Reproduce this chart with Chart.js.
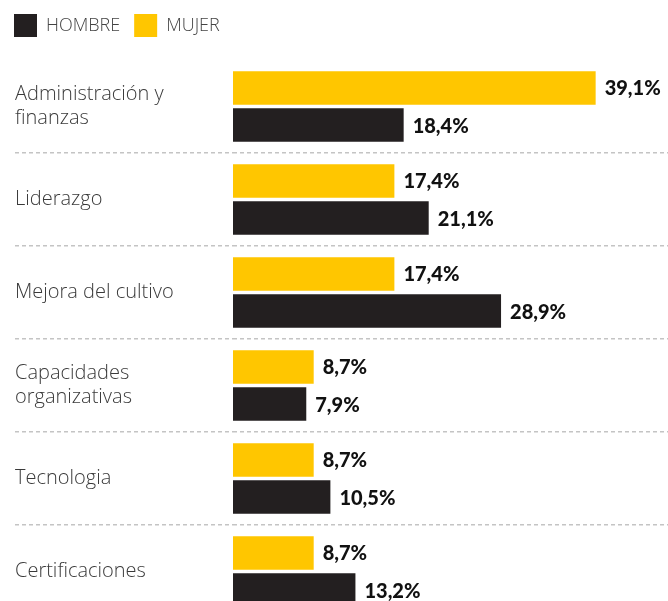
<!DOCTYPE html>
<html>
<head>
<meta charset="utf-8">
<script src="https://cdn.jsdelivr.net/npm/chart.js@4/dist/chart.umd.min.js"></script>
<style>
  html, body { margin: 0; padding: 0; background: #fff; overflow: hidden; }
</style>
</head>
<body>
<canvas id="chart" width="668" height="620"></canvas>
<script>
const categories = [['Administración y', 'finanzas'], 'Liderazgo', 'Mejora del cultivo', ['Capacidades', 'organizativas'], 'Tecnologia', 'Certificaciones'];
const mujerValues = [39.1, 17.4, 17.4, 8.7, 8.7, 8.7];
const hombreValues = [18.4, 21.1, 28.9, 7.9, 10.5, 13.2];

const YELLOW = '#ffc600';
const BLACK = '#231f20';
const LABEL_X = 15;

// make the legend take a fixed height so the plot starts where it should
const legendHeight = {
    id: 'legendHeight',
    beforeInit(chart) {
        const fit = chart.legend.fit;
        chart.legend.fit = function () {
            fit.call(this);
            this.height = 60;
        };
    }
};

// category names on the left, left aligned
const categoryLabels = {
    id: 'categoryLabels',
    afterDraw(chart) {
        const ctx = chart.ctx;
        const y = chart.scales.y;
        ctx.save();
        ctx.font = '300 20px "Open Sans"';
        ctx.fillStyle = '#3a3a3a';
        ctx.textBaseline = 'middle';
        ctx.textAlign = 'left';
        chart.data.labels.forEach((label, i) => {
            const lines = Array.isArray(label) ? label : [label];
            const lh = 24;
            const top = y.getPixelForTick(i) - (lines.length - 1) * lh / 2;
            lines.forEach((line, k) => ctx.fillText(line, LABEL_X, top + k * lh));
        });
        ctx.restore();
    }
};

// percent labels at the end of each bar
const valueLabels = {
    id: 'valueLabels',
    afterDatasetsDraw(chart) {
        const ctx = chart.ctx;
        ctx.save();
        ctx.font = '900 20px Lato';
        ctx.fillStyle = '#111';
        ctx.textBaseline = 'middle';
        ctx.textAlign = 'left';
        chart.data.datasets.forEach((ds, i) => {
            chart.getDatasetMeta(i).data.forEach((bar, j) => {
                ctx.fillText(ds.data[j].toFixed(1).replace('.', ',') + '%', bar.x + 9, bar.y + 1);
            });
        });
        ctx.restore();
    }
};

new Chart(document.getElementById('chart'), {
    type: 'bar',
    data: {
        labels: categories,
        datasets: [
            {label: 'MUJER', data: mujerValues, backgroundColor: YELLOW},
            {label: 'HOMBRE', data: hombreValues, backgroundColor: BLACK}
        ]
    },
    options: {
        indexAxis: 'y',
        responsive: false,
        animation: false,
        barPercentage: 0.9,
        categoryPercentage: 0.8,
        layout: {padding: {left: 0, right: 0, top: 0, bottom: 2}},
        plugins: {
            tooltip: {enabled: false},
            legend: {
                position: 'top',
                align: 'start',
                reverse: true,
                labels: {
                    boxWidth: 23,
                    boxHeight: 23,
                    padding: 14,
                    color: '#444',
                    font: {family: 'Open Sans', weight: 300, size: 18}
                }
            }
        },
        scales: {
            x: {display: false, min: 0, max: 46.9},
            y: {
                afterFit(scale) { scale.width = 233; },
                border: {display: false, dash: [4, 3]},
                grid: {
                    offset: true,
                    drawTicks: true,
                    tickLength: 233 - LABEL_X,
                    tickBorderDash: [4, 3],
                    lineWidth: 1.5,
                    color: (c) => c.index === 0 ? 'rgba(0,0,0,0)' : '#c4c4c4'
                },
                ticks: {display: false}
            }
        }
    },
    plugins: [legendHeight, categoryLabels, valueLabels]
});
</script>
</body>
</html>
